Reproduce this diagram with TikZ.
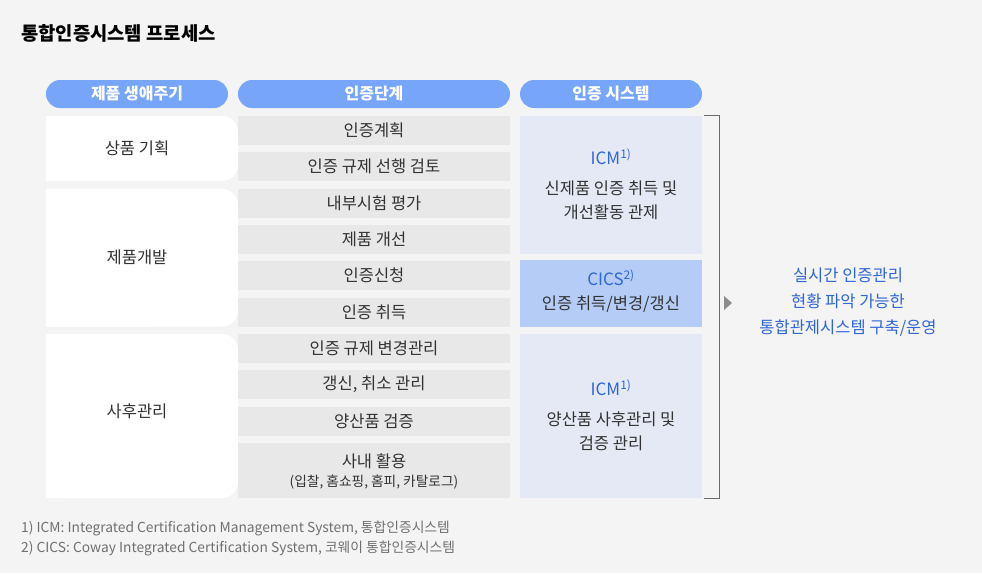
\documentclass[tikz,border=0pt]{standalone}
\usepackage{fontspec}
\setmainfont{Noto Sans CJK KR}

\definecolor{pagebg}{HTML}{F4F4F4}
\definecolor{pillblue}{HTML}{76A5FA}
\definecolor{rowgray}{HTML}{E8E8E8}
\definecolor{syslight}{HTML}{E4E9F5}
\definecolor{sysblue}{HTML}{B5CCF7}
\definecolor{txtdark}{HTML}{333333}
\definecolor{txtblue}{HTML}{2F66D8}
\definecolor{notegray}{HTML}{707070}
\definecolor{linegray}{HTML}{6A6A6A}

\begin{document}
\begin{tikzpicture}[
    x=1pt, y=-1pt,
    every node/.style={inner sep=0pt, text=txtdark},
    pill/.style={fill=pillblue, rounded corners=14pt, minimum height=28pt,
        text=white, font=\fontsize{16}{19}\selectfont\bfseries},
    stepbox/.style={fill=rowgray, minimum width=272pt, minimum height=29pt,
        font=\fontsize{16.5}{19}\selectfont},
    sysbox/.style={fill=syslight, minimum width=182pt},
    lifetext/.style={font=\fontsize{16.5}{19}\selectfont},
    systitle/.style={text=txtblue, font=\fontsize{17}{20}\selectfont},
    sysbody/.style={align=center, font=\fontsize{16.5}{24}\selectfont},
    goaltext/.style={align=center, text=txtblue, font=\fontsize{16.5}{26}\selectfont},
    note/.style={anchor=west, text=notegray, font=\fontsize{13.8}{16}\selectfont},
]
% ---- column x-coordinates ----
\def\xlife{137}   % lifecycle column
\def\xstep{374}   % certification steps
\def\xsys{611}    % certification systems
\def\xgoal{848}   % goal text on the right

% ---- background ----
\fill[pagebg] (0,0) rectangle (982,573);
\useasboundingbox (0,0) rectangle (982,573);

% ---- title ----
\node[anchor=west, font=\fontsize{18.8}{22}\selectfont\bfseries, text=black] (title) at (21,33) {통합인증시스템 프로세스};

% ---- header pills ----
\node[pill, minimum width=182pt] (hLife) at (\xlife,94) {제품 생애주기};
\node[pill, minimum width=272pt] (hStep) at (\xstep,94) {인증단계};
\node[pill, minimum width=182pt] (hSys)  at (\xsys,94)  {인증 시스템};

% ---- lifecycle boxes (rounded on the right only) ----
\fill[white, rounded corners=16pt] (46,116) rectangle (238,181);
\fill[white] (46,116) rectangle (150,181);
\fill[white, rounded corners=16pt] (46,189) rectangle (238,326.5);
\fill[white] (46,189) rectangle (150,326.5);
\fill[white, rounded corners=16pt] (46,334) rectangle (238,498);
\fill[white] (46,334) rectangle (150,498);
\node[lifetext] (plan)  at (\xlife,148) {상품 기획};
\node[lifetext] (dev)   at (\xlife,257) {제품개발};
\node[lifetext] (after) at (\xlife,411) {사후관리};

% ---- certification steps ----
\node[stepbox] (s1) at (\xstep,130.5) {인증계획};
\node[stepbox] (s2) at (\xstep,166.5) {인증 규제 선행 검토};
\node[stepbox] (s3) at (\xstep,203.5) {내부시험 평가};
\node[stepbox] (s4) at (\xstep,239.5) {제품 개선};
\node[stepbox] (s5) at (\xstep,275.5) {인증신청};
\node[stepbox] (s6) at (\xstep,312)   {인증 취득};
\node[stepbox] (s7) at (\xstep,348.5) {인증 규제 변경관리};
\node[stepbox] (s8) at (\xstep,384.5) {갱신, 취소 관리};
\node[stepbox] (s9) at (\xstep,421.5) {양산품 검증};
\node[stepbox, minimum height=55pt] (s10) at (\xstep,470.5) {};
\node[lifetext] (s10a) at (\xstep,461) {사내 활용};
\node[font=\fontsize{13.7}{16}\selectfont] (s10b) at (\xstep,482) {(입찰, 홈쇼핑, 홈피, 카탈로그)};

% ---- certification systems ----
\node[sysbox, minimum height=138pt] (sysA) at (\xsys,185) {};
\node[sysbox, fill=sysblue, minimum height=67pt] (sysB) at (\xsys,293.5) {};
\node[sysbox, minimum height=164pt] (sysC) at (\xsys,416) {};

\node[systitle] (icmA) at (\xsys,157) {ICM\textsuperscript{1)}};
\node[sysbody]  (icmAtxt) at (\xsys,200) {신제품 인증 취득 및\\개선활동 관제};
\node[systitle] (cics) at (\xsys,278) {CICS\textsuperscript{2)}};
\node[sysbody]  (cicstxt) at (\xsys,304) {인증 취득/변경/갱신};
\node[systitle] (icmC) at (\xsys,388) {ICM\textsuperscript{1)}};
\node[sysbody]  (icmCtxt) at (\xsys,431) {양산품 사후관리 및\\검증 관리};

% ---- bracket and arrow ----
\draw[linegray, line width=1.2pt]
    ([xshift=2pt]sysA.north east) -| ([xshift=17pt]sysC.south east)
    -- ([xshift=2pt]sysC.south east);
\fill[gray!90] (724,296) -- (732,303) -- (724,310) -- cycle;

% ---- goal ----
\node[goaltext] (goal) at (\xgoal,302) {실시간 인증관리\\현황 파악 가능한\\통합관제시스템 구축/운영};

% ---- footnotes ----
\node[note] (fn1) at (21,528) {1) ICM: Integrated Certification Management System, 통합인증시스템};
\node[note] (fn2) at (21,548) {2) CICS: Coway Integrated Certification System, 코웨이 통합인증시스템};

\end{tikzpicture}
\end{document}
